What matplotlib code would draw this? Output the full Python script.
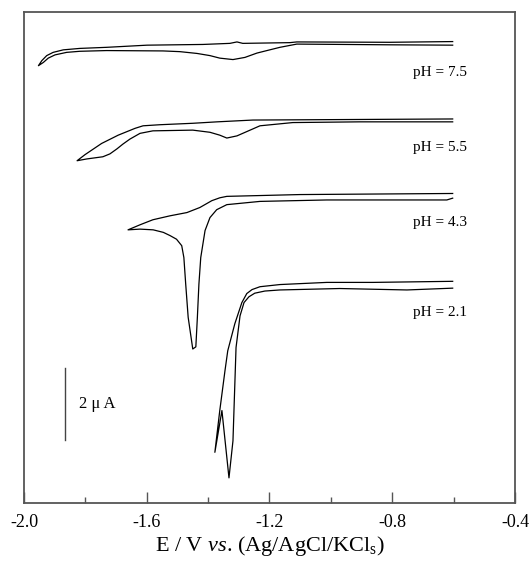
import matplotlib
matplotlib.use('Agg')
import matplotlib.pyplot as plt

#-------------------------------------------------------------------------------
#DATA  (potential in V, current in uA, curves already offset vertically)

e_75 = [-0.603, -0.808, -1.111, -1.134, -1.287, -1.306, -1.329, -1.417, -1.599, -1.731,
        -1.818, -1.872, -1.905, -1.926, -1.942, -1.953,
        -1.937, -1.921, -1.899, -1.861, -1.818, -1.731, -1.547, -1.492, -1.436, -1.394,
        -1.362, -1.319, -1.280, -1.241, -1.199, -1.166, -1.111, -0.808, -0.603]
i_75 = [12.81, 12.79, 12.80, 12.78, 12.76, 12.80, 12.76, 12.73, 12.71, 12.65,
        12.62, 12.58, 12.51, 12.42, 12.28, 12.14,
        12.23, 12.35, 12.44, 12.51, 12.54, 12.56, 12.55, 12.53, 12.48, 12.42,
        12.35, 12.31, 12.37, 12.49, 12.58, 12.65, 12.74, 12.72, 12.71]

e_55 = [-0.603, -1.254, -1.371, -1.450, -1.557, -1.612, -1.638, -1.693, -1.747, -1.801,
        -1.827,
        -1.795, -1.743, -1.720, -1.697, -1.678, -1.655, -1.622, -1.580, -1.450, -1.394,
        -1.362, -1.339, -1.306, -1.231, -1.124, -0.906, -0.603]
i_55 = [10.66, 10.63, 10.58, 10.54, 10.50, 10.47, 10.40, 10.21, 9.98, 9.67,
        9.50,
        9.55, 9.61, 9.69, 9.83, 9.96, 10.10, 10.26, 10.33, 10.35, 10.29,
        10.21, 10.13, 10.19, 10.47, 10.56, 10.58, 10.58]

e_43 = [-0.603, -1.101, -1.339, -1.362, -1.388, -1.427, -1.469, -1.524, -1.580, -1.622,
        -1.661,
        -1.622, -1.579, -1.546, -1.524, -1.503, -1.486, -1.479, -1.473, -1.465, -1.450,
        -1.440, -1.435, -1.430, -1.424, -1.410, -1.394, -1.372, -1.339, -1.231, -1.013,
        -0.622, -0.603]
i_43 = [8.59, 8.56, 8.51, 8.47, 8.39, 8.20, 8.06, 7.97, 7.86, 7.72,
        7.58,
        7.60, 7.58, 7.51, 7.42, 7.32, 7.14, 6.81, 6.07, 5.15, 4.27,
        4.33, 5.15, 6.07, 6.81, 7.56, 7.92, 8.14, 8.28, 8.37, 8.41,
        8.41, 8.46]

e_21 = [-0.603, -0.863, -1.013, -1.166, -1.231, -1.257, -1.274, -1.290, -1.313, -1.336,
        -1.345, -1.362, -1.378,
        -1.355, -1.332, -1.319, -1.309, -1.296, -1.283, -1.267, -1.248, -1.215, -1.166,
        -0.971, -0.752, -0.603]
i_21 = [6.15, 6.12, 6.12, 6.06, 6.00, 5.92, 5.81, 5.56, 4.97, 4.22,
        3.67, 2.56, 1.40,
        2.56, 0.69, 1.72, 4.31, 5.19, 5.56, 5.72, 5.82, 5.88, 5.91,
        5.95, 5.91, 5.96]

curves = [(e_75, i_75), (e_55, i_55), (e_43, i_43), (e_21, i_21)]

labels = ['pH = 7.5', 'pH = 5.5', 'pH = 4.3', 'pH = 2.1']
label_e = -0.555
label_i = [11.94, 9.88, 7.78, 5.28]

xticks = [-2.0, -1.6, -1.2, -0.8, -0.4]
xminor = [-1.8, -1.4, -1.0, -0.6]

#scale bar (2 uA)
bar_e = -1.866
bar_i = [1.74, 3.74]

#-------------------------------------------------------------------------------
#PLOT

plt.rcParams['font.family'] = ['Liberation Serif', 'DejaVu Serif']
plt.rcParams['mathtext.fontset'] = 'custom'
plt.rcParams['mathtext.rm'] = 'Liberation Serif'
plt.rcParams['mathtext.it'] = 'Liberation Serif:italic'

fig = plt.figure(figsize=(5.31, 5.62), dpi=100)
ax = fig.add_axes([0.0452, 0.1055, 0.9246, 0.8737])

for e, i in curves:
    ax.plot(e, i, color='black', lw=0.9)

for lab, yi in zip(labels, label_i):
    ax.text(label_e, yi, lab, ha='right', va='center', fontsize=11)

ax.plot([bar_e, bar_e], bar_i, color='#444444', lw=1.0)
ax.text(-1.821, sum(bar_i) / 2, '2 μ A', ha='left', va='center', fontsize=12)

ax.set_xlim(-2.0, -0.4)
ax.set_ylim(0.0, 13.64)
ax.set_xticks(xticks)
ax.set_xticklabels(['%.1f' % t for t in xticks])
ax.set_xticks(xminor, minor=True)
ax.set_yticks([])
ax.tick_params(axis='x', which='major', direction='in', length=8, width=1,
               labelsize=13, pad=8, color='#555555')
ax.tick_params(axis='x', which='minor', direction='in', length=4, width=1,
               color='#555555')
for sp in ax.spines.values():
    sp.set_linewidth(1.3)
    sp.set_color('#555555')

ax.set_xlabel(r'E / V $\mathit{vs}$. (Ag/AgCl/KCl$_{\mathrm{s}}$)', fontsize=16, labelpad=2)

fig.savefig('out.png', dpi=100)
